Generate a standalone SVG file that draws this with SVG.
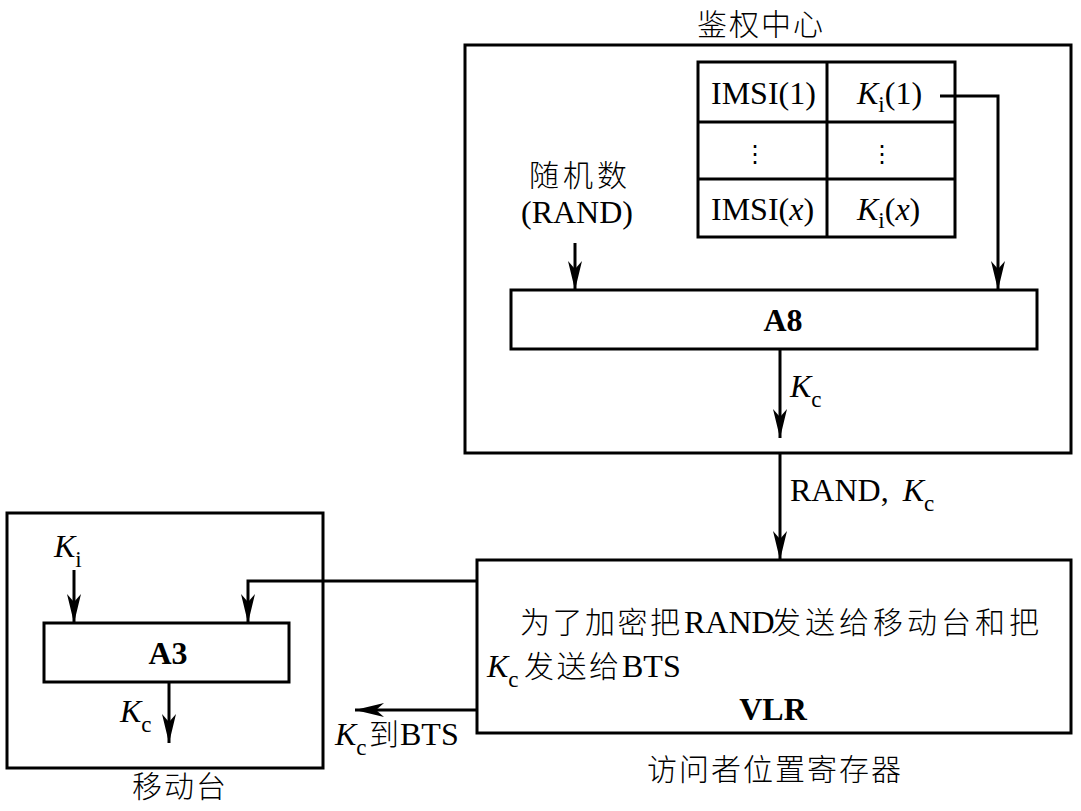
<svg xmlns="http://www.w3.org/2000/svg" width="1081" height="811" viewBox="0 0 1081 811">
<defs>
<marker id="ah" viewBox="-30 -8 31 16" refX="0" refY="0" markerWidth="31" markerHeight="16" markerUnits="userSpaceOnUse" orient="auto">
<path d="M0,0 L-29,-7 L-21,0 L-29,7 Z" fill="#000"/>
</marker>
<style>
.box{fill:#fff;stroke:#000;stroke-width:3}
.ln{fill:none;stroke:#000;stroke-width:3}
.ar{fill:none;stroke:#000;stroke-width:3;marker-end:url(#ah)}
.t{font-family:"Liberation Serif","Noto Sans CJK SC",serif;font-size:32px;fill:#000}
.cn{font-family:"Noto Sans CJK SC","Liberation Serif",sans-serif;font-size:30px;font-weight:300;fill:#000;letter-spacing:4px}
.cn3{font-family:"Noto Sans CJK SC","Liberation Serif",sans-serif;font-size:30px;font-weight:300;fill:#000;letter-spacing:2.5px}
.cn2{font-family:"Noto Sans CJK SC","Liberation Serif",sans-serif;font-size:30px;font-weight:300;fill:#000;letter-spacing:2px}
.b{font-family:"Liberation Serif",serif;font-size:32px;font-weight:bold;fill:#000}
.it{font-style:italic}
.sub{font-size:23px}
</style>
</defs>
<rect width="1081" height="811" fill="#fff"/>

<g id="auc">
<rect class="box" x="465" y="45" width="606" height="408"/>
<text class="cn2" x="697" y="35">鉴权中心</text>
</g>

<g id="table">
<rect class="box" x="698" y="62" width="257" height="175"/>
<line class="ln" x1="827" y1="62" x2="827" y2="237"/>
<line class="ln" x1="698" y1="122" x2="955" y2="122"/>
<line class="ln" x1="698" y1="179" x2="955" y2="179"/>
<text class="t" x="711" y="104">IMSI(1)</text>
<text class="t" x="857" y="104"><tspan class="it">K</tspan><tspan class="sub" dy="8">i</tspan><tspan dy="-8">(1)</tspan></text>
<text class="t" x="755" y="162" text-anchor="middle" style="font-family:'DejaVu Sans',sans-serif;font-size:24px">⋮</text>
<text class="t" x="882" y="162" text-anchor="middle" style="font-family:'DejaVu Sans',sans-serif;font-size:24px">⋮</text>
<text class="t" x="711" y="220">IMSI(<tspan class="it">x</tspan>)</text>
<text class="t" x="857" y="220"><tspan class="it">K</tspan><tspan class="sub" dy="8">i</tspan><tspan dy="-8">(</tspan><tspan class="it">x</tspan>)</text>
</g>

<g id="rand">
<text class="cn" x="580" y="186" text-anchor="middle">随机数</text>
<text class="t" x="577" y="223" text-anchor="middle">(RAND)</text>
</g>

<g id="a8">
<rect class="box" x="511" y="290" width="526" height="59"/>
<text class="b" x="783" y="331" text-anchor="middle">A8</text>
</g>

<g id="vlr">
<rect class="box" x="477" y="560" width="594" height="173"/>
<text class="cn3" x="520" y="633">为了加密把</text>
<text class="t" x="684" y="633">RAND</text>
<text class="cn" x="771" y="633">发送给移动台和把</text>
<text class="t" x="487" y="677"><tspan class="it">K</tspan><tspan class="sub" dy="10">c</tspan></text>
<text class="cn3" x="524" y="677">发送给</text>
<text class="t" x="622" y="677">BTS</text>
<text class="b" x="773" y="720" text-anchor="middle">VLR</text>
<text class="cn2" x="647" y="780">访问者位置寄存器</text>
</g>

<g id="ms">
<rect class="box" x="7" y="513" width="316" height="255"/>
<text class="cn2" x="132" y="797">移动台</text>
<rect class="box" x="44" y="623" width="245" height="59"/>
<text class="b" x="168" y="664" text-anchor="middle">A3</text>
<text class="t" x="54" y="557"><tspan class="it">K</tspan><tspan class="sub" dy="10">i</tspan></text>
<text class="t" x="120" y="722"><tspan class="it">K</tspan><tspan class="sub" dy="10">c</tspan></text>
</g>

<g id="connectors">
<polyline class="ar" points="940,96 998,96 998,290"/>
<line class="ar" x1="575" y1="243" x2="575" y2="290"/>
<line class="ar" x1="780" y1="349" x2="780" y2="438"/>
<line class="ar" x1="780" y1="453" x2="780" y2="560"/>
<polyline class="ar" points="477,581 248,581 248,623"/>
<line class="ar" x1="74" y1="570" x2="74" y2="623"/>
<line class="ar" x1="169" y1="682" x2="169" y2="743"/>
<line class="ar" x1="477" y1="710" x2="355" y2="710"/>
<text class="t" x="790" y="397"><tspan class="it">K</tspan><tspan class="sub" dy="10">c</tspan></text>
<text class="t" x="790" y="501">RAND, <tspan class="it" dx="6">K</tspan><tspan class="sub" dy="10">c</tspan></text>
<text class="t" x="335" y="745"><tspan class="it">K</tspan><tspan class="sub" dy="10">c</tspan></text>
<text class="cn" x="369" y="745">到</text>
<text class="t" x="400" y="745">BTS</text>
</g>
</svg>
